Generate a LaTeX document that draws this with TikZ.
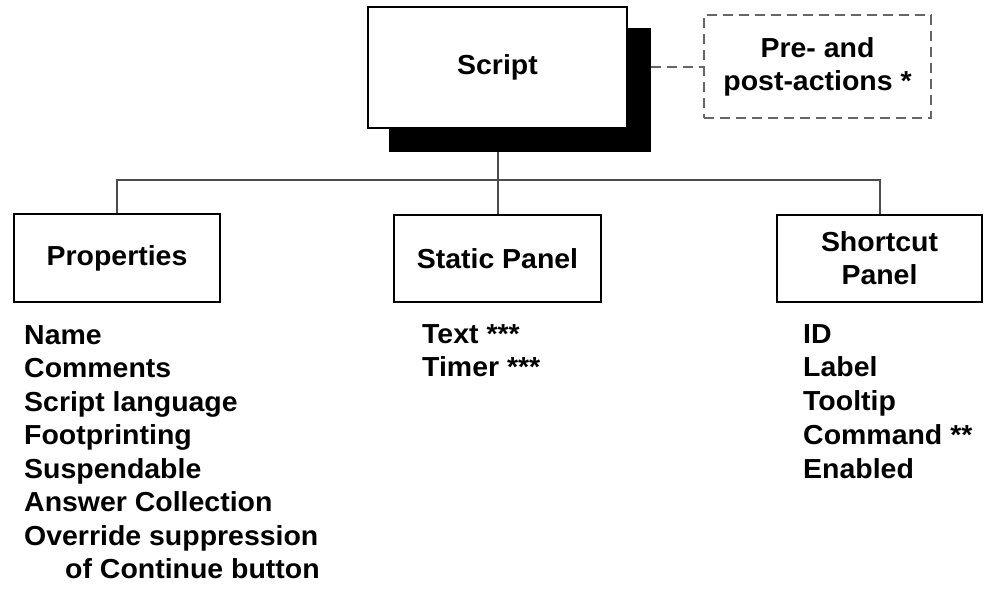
\documentclass[tikz,border=0pt]{standalone}
\usepackage{fontspec}
\setmainfont{Liberation Sans}[FakeStretch=1.035]
\begin{document}
\begin{tikzpicture}[x=1pt,y=-1pt,
  box/.style={draw=black, line width=2pt, fill=white, inner sep=0pt, align=center,
    font=\bfseries\fontsize{27.5}{33}\selectfont},
  conn/.style={draw=black!70, line width=2pt},
  dashline/.style={draw=black!60, line width=2pt, dash pattern=on 10pt off 6pt},
  lst/.style={anchor=base west, inner sep=0pt, font=\bfseries\fontsize{27.5}{33}\selectfont}]
\useasboundingbox (0,0) rectangle (984,592);
% shadow and main box
\node[fill=black, draw=black, line width=1pt, minimum width=261pt, minimum height=123pt, inner sep=0pt] (shadow) at (519.5,89.5) {};
\node[box, minimum width=259pt, minimum height=121pt] (script) at (497.5,67.5) {Script};
% dashed box
\node[box, dashline, minimum width=227pt, minimum height=103pt] (pre) at (817.5,66.5) {Pre- and\\post-actions *};
\draw[dashline] (shadow.east |- pre.west) -- (pre.west);
% second level boxes
\node[box, minimum width=206pt, minimum height=88pt] (prop) at (117,258) {Properties};
\node[box, minimum width=207pt, minimum height=87pt] (static) at (497.5,258.5) {Static Panel};
\node[box, minimum width=205pt, minimum height=87pt] (short) at (879.5,258.5) {Shortcut\\Panel};
% connectors
\coordinate (bus) at (497.5,180);
\draw[conn] (static.north |- shadow.south) -- (static.north);
\draw[conn] (prop.north) -- (prop.north |- bus) -- (short.north |- bus) -- (short.north);
% lists
\foreach \t [count=\i] in {Name,Comments,Script language,Footprinting,Suspendable,Answer Collection,Override suppression}
  \node[lst] (p\i) at (24,{344+33.5*(\i-1)}) {\t};
\node[lst] (p8) at (65,578.5) {of Continue button};
\node[lst] (s1) at (422,343) {Text ***};
\node[lst] (s2) at (422,376.5) {Timer ***};
\foreach \t [count=\i] in {ID,Label,Tooltip,Command **,Enabled}
  \node[lst] (c\i) at (803,{343+33.8*(\i-1)}) {\t};
\end{tikzpicture}
\end{document}
